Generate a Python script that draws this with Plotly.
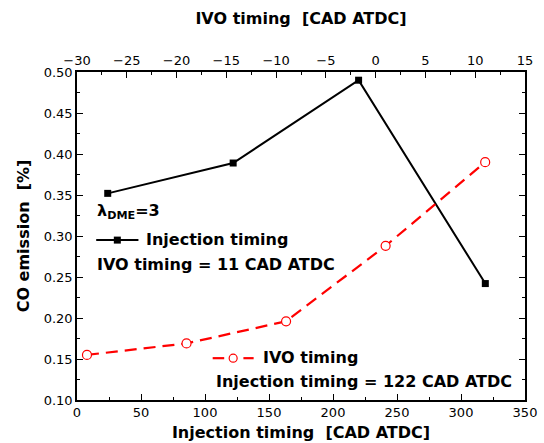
import plotly.graph_objects as go

# Black series: varying injection timing (bottom axis), IVO timing = 11 CAD ATDC
inj_timing = [24, 122, 220, 319]
co_inj = [0.352, 0.389, 0.490, 0.242]

# Red series: varying IVO timing (top axis), injection timing = 122 CAD ATDC
ivo_timing = [-29, -19, -9, 1, 11]
co_ivo = [0.155, 0.169, 0.196, 0.288, 0.390]

bottom_ticks = [0, 50, 100, 150, 200, 250, 300, 350]
top_ticks = [-30, -25, -20, -15, -10, -5, 0, 5, 10, 15]
y_ticks = [0.10, 0.15, 0.20, 0.25, 0.30, 0.35, 0.40, 0.45, 0.50]

TICKF = dict(family="DejaVu Sans", size=13, color="black")
TITLEF = dict(family="DejaVu Sans", size=16, color="black")

fig = go.Figure()
fig.add_trace(go.Scatter(
    x=inj_timing, y=co_inj, mode="lines+markers", xaxis="x", yaxis="y",
    line=dict(color="black", width=2),
    marker=dict(symbol="square", size=7, color="black"),
    showlegend=False))
fig.add_trace(go.Scatter(
    x=ivo_timing, y=co_ivo, mode="lines+markers", xaxis="x2", yaxis="y",
    line=dict(color="red", width=2.2, dash="12px,7px"),
    marker=dict(symbol="circle", size=9, color="white", line=dict(width=1.2, color="red")),
    showlegend=False))

axis_common = dict(showline=True, linecolor="black", linewidth=1.5, showgrid=False,
                   zeroline=False, ticks="inside", ticklen=6, tickwidth=1.2,
                   tickcolor="black", tickfont=TICKF, automargin=False)

fig.update_layout(
    width=544, height=443,
    margin=dict(l=77, r=19, t=72, b=43),
    paper_bgcolor="white", plot_bgcolor="white",
    xaxis=dict(range=[0, 350], tickvals=bottom_ticks, **axis_common,
               minor=dict(ticks="inside", ticklen=3, tickwidth=1, tickcolor="black", dtick=25, tick0=0),
               title=dict(text="<b>Injection timing  [CAD ATDC]</b>", font=TITLEF, standoff=7)),
    xaxis2=dict(range=[-30, 15], tickvals=top_ticks, overlaying="x", side="top", anchor="y",
                **axis_common,
                minor=dict(ticks="inside", ticklen=3, tickwidth=1, tickcolor="black", dtick=2.5, tick0=0),
                title=dict(text="<b>IVO timing  [CAD ATDC]</b>", font=TITLEF, standoff=24)),
    yaxis=dict(range=[0.10, 0.50], tickvals=y_ticks, tickformat=".2f", mirror="ticks",
               **axis_common,
               minor=dict(ticks="inside", ticklen=3, tickwidth=1, tickcolor="black", dtick=0.025, tick0=0),
               title=dict(text="<b>CO emission  [%]</b>", font=TITLEF, standoff=10)),
)

def ann(x, y, text, size=16):
    fig.add_annotation(x=x, y=y, xref="x", yref="y", text=text, showarrow=False,
                       xanchor="left", yanchor="middle",
                       font=dict(family="DejaVu Sans", size=size, color="black"))

# legend block 1
ann(14, 0.330, "<b>λ<sub>DME</sub>=3</b>")
fig.add_shape(type="line", x0=15, x1=48, y0=0.295, y1=0.295, xref="x", yref="y",
              line=dict(color="black", width=2))
fig.add_shape(type="rect", xref="x", yref="y", xsizemode="pixel", ysizemode="pixel",
              xanchor=31.5, yanchor=0.295, x0=-3.5, x1=3.5, y0=-3.5, y1=3.5,
              fillcolor="black", line=dict(width=0))
ann(52, 0.296, "<b>Injection timing</b>")
ann(14, 0.265, "<b>IVO timing = 11 CAD ATDC</b>")

# legend block 2
fig.add_shape(type="line", x0=106, x1=115, y0=0.151, y1=0.151, xref="x", yref="y",
              line=dict(color="red", width=2.2))
fig.add_shape(type="line", x0=130, x1=138, y0=0.151, y1=0.151, xref="x", yref="y",
              line=dict(color="red", width=2.2))
fig.add_shape(type="circle", xref="x", yref="y", xsizemode="pixel", ysizemode="pixel",
              xanchor=122, yanchor=0.151, x0=-4, x1=4, y0=-4, y1=4,
              fillcolor="white", line=dict(color="red", width=1.2))
ann(144, 0.152, "<b>IVO timing</b>")
ann(107, 0.122, "<b>Injection timing = 122 CAD ATDC</b>")

fig.write_html("out.html")
